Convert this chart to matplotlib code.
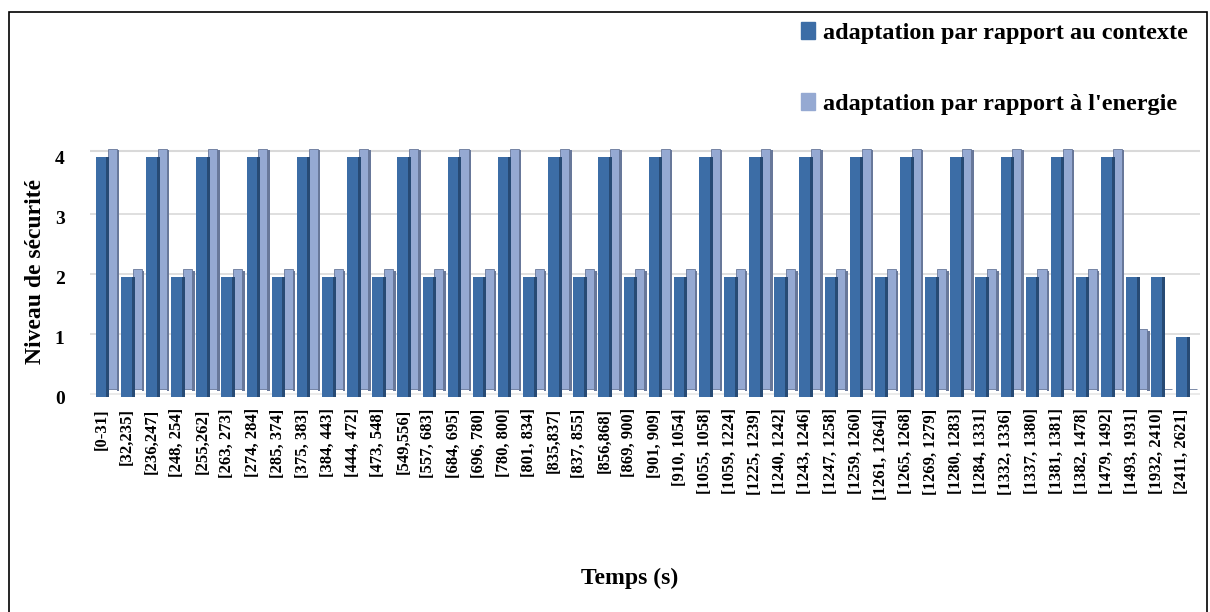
import numpy as np
import matplotlib as mpl
mpl.use('Agg')
import matplotlib.pyplot as plt
from matplotlib.patches import Rectangle

# time intervals (x categories)
intervals = ['[0-31]', '[32,235]', '[236,247]', '[248, 254]', '[255,262]', '[263, 273]',
             '[274, 284]', '[285, 374]', '[375, 383]', '[384, 443]', '[444, 472]',
             '[473, 548]', '[549,556]', '[557, 683]', '[684, 695]', '[696, 780]',
             '[780, 800]', '[801, 834]', '[835,837]', '[837, 855]', '[856,868]',
             '[869, 900]', '[901, 909]', '[910, 1054]', '[1055, 1058]', '[1059, 1224]',
             '[1225, 1239]', '[1240, 1242]', '[1243, 1246]', '[1247, 1258]', '[1259, 1260]',
             '[1261, 1264]]', '[1265, 1268]', '[1269, 1279]', '[1280, 1283]', '[1284, 1331]',
             '[1332, 1336]', '[1337, 1380]', '[1381, 1381]', '[1382, 1478]', '[1479, 1492]',
             '[1493, 1931]', '[1932, 2410]', '[2411, 2621]']

# security level for each adaptation strategy
contexte = [4, 2, 4, 2, 4, 2, 4, 2, 4, 2, 4, 2, 4, 2, 4, 2, 4, 2, 4, 2, 4, 2,
            4, 2, 4, 2, 4, 2, 4, 2, 4, 2, 4, 2, 4, 2, 4, 2, 4, 2, 4, 2, 2, 1]
energie = [4, 2, 4, 2, 4, 2, 4, 2, 4, 2, 4, 2, 4, 2, 4, 2, 4, 2, 4, 2, 4, 2,
           4, 2, 4, 2, 4, 2, 4, 2, 4, 2, 4, 2, 4, 2, 4, 2, 4, 2, 4, 1, 0, 0]

c_front = '#3C6DA6'
c_side = '#274A74'
e_front = '#95A9D2'
e_side = '#68789A'

serif = ['Liberation Serif', 'DejaVu Serif']

fig = plt.figure(figsize=(12.1, 6.12), dpi=100)
ax = fig.add_axes([0.074, 0.351, 0.918, 0.412])

x = np.arange(len(intervals))
lift = 0.13   # the back series sits a bit higher (fake depth)

# gridlines + back wall top
for g in [1, 2, 3]:
    ax.axhline(g + 0.05, color='#D9D9D9', lw=1.2, zorder=0)
ax.axhline(4.1, color='#D9D9D9', lw=1.5, zorder=0)
ax.axhline(0.05, color='#E6E6E6', lw=1.2, zorder=0)

# energy series (behind)
ax.bar(x + 0.42, energie, width=0.36, bottom=lift, color=e_front,
       edgecolor=e_side, linewidth=0.6, align='edge', zorder=1)
ax.bar(x + 0.78, energie, width=0.1, bottom=lift - 0.02, color=e_side,
       linewidth=0, align='edge', zorder=1)

# context series (front)
ax.bar(x - 0.05, contexte, width=0.42, color=c_front, linewidth=0,
       align='edge', zorder=2)
ax.bar(x + 0.37, contexte, width=0.12, bottom=0.0, color=c_side,
       linewidth=0, align='edge', zorder=2)

ax.set_xlim(-0.3, len(intervals) - 0.1)
ax.set_ylim(0, 4.2)
ax.set_yticks([0, 1, 2, 3, 4])
ax.set_yticklabels(['0', '1', '2', '3', '4'], fontsize=14, fontweight='bold', family=serif)
ax.set_xticks(x + 0.18)
ax.set_xticklabels(intervals, rotation=90, fontsize=12, fontweight='bold', family=serif)
ax.tick_params(axis='both', length=0)
ax.tick_params(axis='x', pad=8)
ax.tick_params(axis='y', pad=18)
for s in ax.spines.values():
    s.set_visible(False)

ax.set_ylabel('Niveau de sécurité', fontsize=17, fontweight='bold', family=serif, labelpad=6)
fig.text(0.52, 0.055, 'Temps (s)', fontsize=17, fontweight='bold', family=serif,
         ha='center', va='center')

# legend
handles = [Rectangle((0, 0), 1, 1, color=c_front), Rectangle((0, 0), 1, 1, color=e_front)]
leg = fig.legend(handles, ['adaptation par rapport au contexte', "adaptation par rapport à l'energie"],
                 loc='upper right', bbox_to_anchor=(1.0, 1.0), frameon=False,
                 prop={'family': serif, 'weight': 'bold', 'size': 17.5},
                 handlelength=0.55, handleheight=0.7, handletextpad=0.35, labelspacing=2.0)

# outer frame
fig.add_artist(Rectangle((0.0075, -0.01), 0.99, 0.99, transform=fig.transFigure,
                         fill=False, edgecolor='black', lw=1.2))

fig.savefig('out.png', dpi=100)
